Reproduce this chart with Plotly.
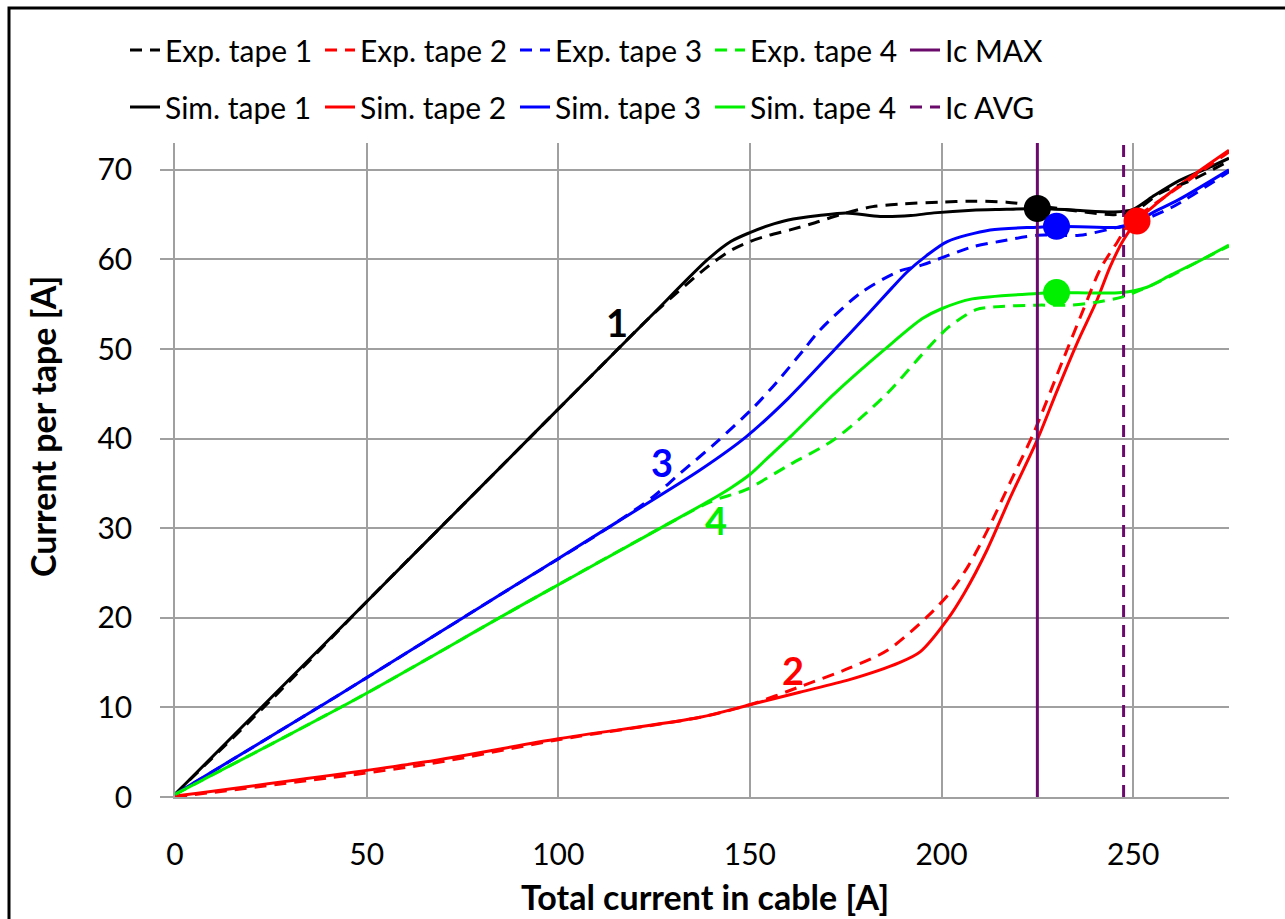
import plotly.graph_objects as go

# ---------------- data ----------------
sim1_x = [0, 20, 50, 80, 110, 124, 139, 145, 150, 155, 160, 168, 175, 184, 192, 198, 208, 217, 225, 235, 245, 250, 255, 262, 270, 275]
sim1_y = [0.3, 8.9, 21.8, 34.7, 47.6, 53.6, 60.0, 62.0, 63.0, 63.8, 64.4, 64.9, 65.2, 64.8, 64.9, 65.2, 65.5, 65.6, 65.7, 65.5, 65.3, 65.6, 67.0, 68.8, 70.3, 71.3]

exp1_x = [0, 25, 50, 80, 110, 125, 139, 145, 150, 155, 160.5, 167, 173.5, 182, 190, 199.6, 208, 217, 225, 232, 239, 245, 250, 257, 265, 275]
exp1_y = [0.3, 10.8, 21.8, 34.7, 47.6, 54.0, 59.2, 61.0, 62.0, 62.7, 63.3, 64.1, 65.0, 65.9, 66.2, 66.4, 66.5, 66.4, 66.0, 65.6, 65.2, 65.0, 65.3, 67.4, 68.8, 71.0]

sim2_x = [0, 65, 100, 137, 150, 163, 176, 189, 194.4, 201.5, 206, 211.9, 218, 225, 230, 235.4, 240.6, 244, 247.5, 251, 256, 265, 275]
sim2_y = [0.1, 3.9, 6.5, 8.9, 10.3, 11.7, 13.1, 15.0, 16.2, 19.8, 22.8, 27.6, 33.5, 39.9, 45.2, 50.7, 55.5, 59.2, 62.2, 64.3, 66.2, 69.2, 72.2]

exp2_x = [0, 65, 100, 137, 150, 163, 176, 186, 196.2, 202.2, 207, 211.9, 218, 224, 231.7, 237, 241.5, 245.8, 249, 255, 265, 275]
exp2_y = [0.0, 3.6, 6.4, 8.9, 10.3, 12.3, 14.4, 16.4, 20.1, 22.8, 25.8, 29.7, 35.2, 40.6, 48.8, 54.4, 59.0, 61.9, 64.0, 66.0, 69.0, 72.0]

sim3_x = [0, 42, 80, 115, 137, 149, 160, 172, 181, 187, 191, 196, 201.5, 212.7, 225, 230, 246.6, 250, 255, 262, 275]
sim3_y = [0.3, 11.2, 21.3, 30.6, 36.5, 40.2, 44.5, 49.9, 54.0, 56.8, 58.6, 60.4, 62.0, 63.3, 63.6, 63.7, 63.6, 64.0, 65.2, 66.7, 70.0]

exp3_x = [0, 42, 80, 115, 125, 132, 141, 151, 157, 164, 168, 179, 189, 195, 208, 215, 225, 236, 246, 250, 260, 275]
exp3_y = [0.3, 11.2, 21.3, 30.6, 33.6, 36.2, 39.5, 43.5, 46.3, 49.9, 52.0, 56.3, 58.7, 59.4, 61.4, 62.0, 62.7, 62.7, 63.6, 64.0, 65.8, 69.8]

sim4_x = [0, 47.5, 90, 127, 140, 145, 150, 155, 161, 172, 185, 195, 200, 208, 225, 230, 247, 253.6, 260, 268, 275]
sim4_y = [0.3, 11.0, 21.3, 30.1, 33.2, 34.5, 36.0, 38.0, 40.4, 45.0, 49.9, 53.4, 54.5, 55.6, 56.2, 56.3, 56.3, 56.9, 58.3, 60.0, 61.6]

exp4_x = [0, 47.5, 90, 127, 140, 149, 160, 172, 185, 196, 202, 209, 213.5, 225, 234, 240, 247, 252, 260, 268, 275]
exp4_y = [0.3, 11.0, 21.3, 30.1, 33.0, 34.3, 37.0, 39.9, 44.7, 49.9, 52.5, 54.4, 54.7, 54.9, 54.9, 55.2, 55.8, 56.6, 58.2, 60.0, 61.5]

ic_max = 225
ic_avg = 247.5

dot_x = [225, 230, 230, 251]
dot_y = [65.7, 63.7, 56.3, 64.3]

label_text = ["1", "2", "3", "4"]
label_x = [115.3, 161.3, 127.0, 141.2]
label_y = [53.0, 14.2, 37.4, 30.9]

x_ticks = [0, 50, 100, 150, 200, 250]
y_ticks = [0, 10, 20, 30, 40, 50, 60, 70]

# ---------------- styles ----------------
BLACK = "#000000"
RED = "#FF0000"
BLUE = "#0000FF"
GREEN = "#00F000"
PURPLE = "#6A0A6A"
colors = [BLACK, RED, BLUE, GREEN]
DASH = "12px,8px"
FONT = "Lato"

W, H = 1285, 919
ML, MR, MT, MB = 175, 56, 143, 122
PW = W - ML - MR
PH = H - MT - MB


def px_x(p):
    return (p - ML) / PW


def px_y(p):
    return (H - MB - p) / PH


fig = go.Figure()

exps = [(exp1_x, exp1_y), (exp2_x, exp2_y), (exp3_x, exp3_y), (exp4_x, exp4_y)]
sims = [(sim1_x, sim1_y), (sim2_x, sim2_y), (sim3_x, sim3_y), (sim4_x, sim4_y)]

for i, (xs, ys) in enumerate(sims):
    fig.add_trace(go.Scatter(x=xs, y=ys, mode="lines", name=f"Sim. tape {i+1}",
                             line=dict(color=colors[i], width=3, shape="spline", smoothing=0.8),
                             legend="legend2", legendrank=i + 1))
fig.add_trace(go.Scatter(x=[ic_avg, ic_avg], y=[0, 73], mode="lines", name="Ic AVG",
                         line=dict(color=PURPLE, width=3, dash=DASH),
                         legend="legend2", legendrank=5))
for i, (xs, ys) in enumerate(exps):
    fig.add_trace(go.Scatter(x=xs, y=ys, mode="lines", name=f"Exp. tape {i+1}",
                             line=dict(color=colors[i], width=3, dash=DASH, shape="spline", smoothing=0.8),
                             legend="legend", legendrank=i + 1))
fig.add_trace(go.Scatter(x=[ic_max, ic_max], y=[0, 73], mode="lines", name="Ic MAX",
                         line=dict(color=PURPLE, width=3),
                         legend="legend", legendrank=5))

fig.add_trace(go.Scatter(x=dot_x, y=dot_y, mode="markers", showlegend=False,
                         marker=dict(size=27, color=[BLACK, BLUE, GREEN, RED], line=dict(width=0))))

label_colors = [BLACK, RED, BLUE, GREEN]
for t, x, y, c in zip(label_text, label_x, label_y, label_colors):
    fig.add_annotation(x=x, y=y, text=f"<b>{t}</b>", showarrow=False,
                       font=dict(family=FONT, size=38, color=c))

# axis titles
fig.add_annotation(xref="paper", yref="paper", x=px_x(705), y=px_y(896), xanchor="center", yanchor="middle",
                   text="<b>Total current in cable [A]</b>",
                   showarrow=False, font=dict(family=FONT, size=34, color="black"))
fig.add_annotation(xref="paper", yref="paper", x=px_x(42), y=px_y(427), xanchor="center", yanchor="middle",
                   text="<b>Current per tape [A]</b>",
                   textangle=-90, showarrow=False, font=dict(family=FONT, size=34, color="black"))

# frame
fig.add_shape(type="rect", xref="paper", yref="paper", x0=px_x(9), x1=px_x(1400), y0=px_y(1000), y1=px_y(8),
              line=dict(color="black", width=3), fillcolor="rgba(0,0,0,0)", layer="above")

GRID = "#A0A0A0"
fig.update_layout(
    width=W, height=H,
    margin=dict(l=ML, r=MR, t=MT, b=MB),
    paper_bgcolor="white", plot_bgcolor="white",
    font=dict(family=FONT, color="black"),
    xaxis=dict(range=[0, 275], tickvals=x_ticks, showgrid=True, gridcolor=GRID, gridwidth=1.5,
               showline=True, linecolor=GRID, linewidth=1.5, zeroline=False, ticks="",
               ticklabelstandoff=30, tickfont=dict(family=FONT, size=30, color="black")),
    yaxis=dict(range=[0, 73], tickvals=y_ticks, showgrid=True, gridcolor=GRID, gridwidth=1.5,
               showline=True, linecolor=GRID, linewidth=1.5, zeroline=False, ticks="outside",
               ticklen=13, tickcolor=GRID, tickwidth=1.5,
               ticklabelstandoff=22, tickfont=dict(family=FONT, size=30, color="black")),
    legend=dict(orientation="h", x=px_x(125), xanchor="left", y=px_y(50), yanchor="middle",
                entrywidth=150, entrywidthmode="pixels", itemwidth=30, traceorder="normal",
                font=dict(family=FONT, size=30, color="black"), bgcolor="rgba(0,0,0,0)"),
    legend2=dict(orientation="h", x=px_x(125), xanchor="left", y=px_y(107), yanchor="middle",
                 entrywidth=150, entrywidthmode="pixels", itemwidth=30, traceorder="normal",
                 font=dict(family=FONT, size=30, color="black"), bgcolor="rgba(0,0,0,0)"),
    showlegend=True,
)

fig.write_html("out.html")
